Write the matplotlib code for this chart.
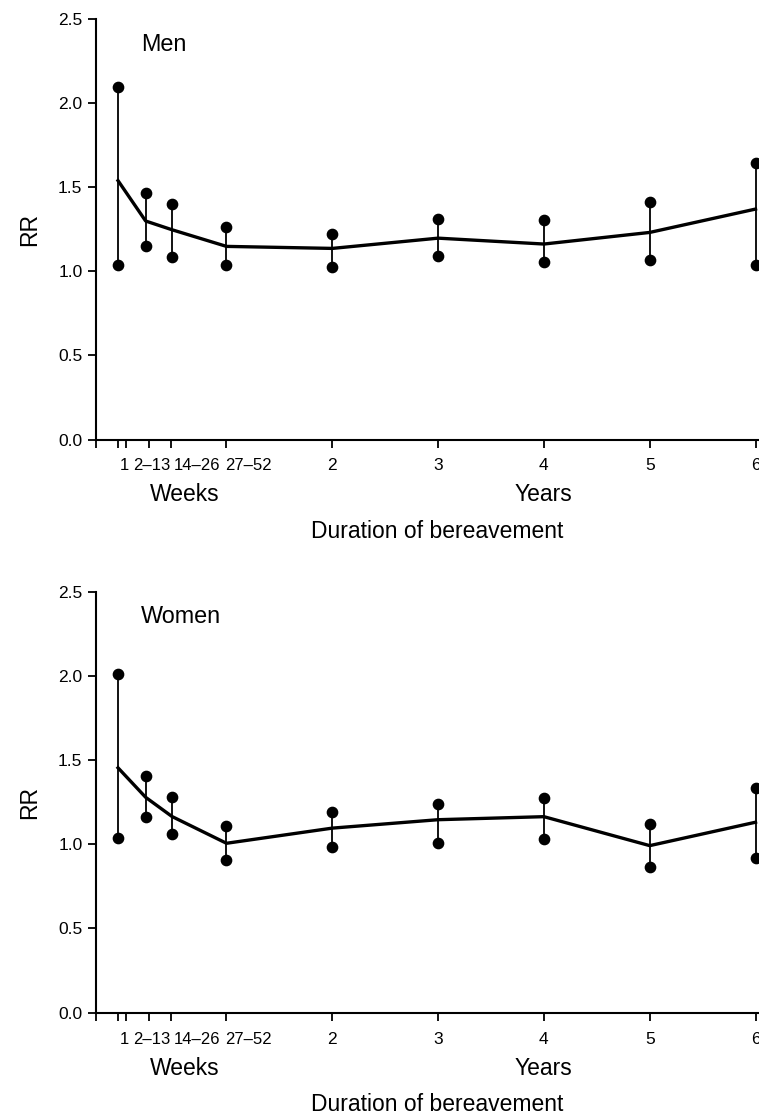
import matplotlib
matplotlib.use("Agg")
import matplotlib.pyplot as plt
import matplotlib.transforms as mtransforms

plt.rcParams['font.family'] = ['Liberation Sans', 'DejaVu Sans']

### data: x in years since bereavement (week groups sit near the start)
x_pos = [-0.025, 0.236, 0.485, 1.0, 2, 3, 4, 5, 6]

men_rr = [1.54, 1.30, 1.248, 1.149, 1.137, 1.198, 1.163, 1.232, 1.371]
men_lo = [1.04, 1.153, 1.083, 1.04, 1.028, 1.089, 1.054, 1.07, 1.036]
men_hi = [2.097, 1.466, 1.40, 1.262, 1.224, 1.314, 1.306, 1.413, 1.643]

women_rr = [1.454, 1.279, 1.165, 1.006, 1.096, 1.146, 1.164, 0.992, 1.131]
women_lo = [1.036, 1.165, 1.062, 0.904, 0.984, 1.006, 1.034, 0.863, 0.916]
women_hi = [2.014, 1.404, 1.279, 1.11, 1.191, 1.241, 1.273, 1.118, 1.335]

### axis ticks
X_MIN, X_MAX = -0.236, 6.03
week_ticks = [X_MIN, -0.021, 0.050, 0.267, 0.48, 1.0]
year_ticks = [2, 3, 4, 5, 6]
year_labels = ["2", "3", "4", "5", "6"]
week_label_pos = [0.034, 0.296, 0.718, 1.205]
week_labels = ["1", "2\u201313", "14\u201326", "27\u201352"]
y_ticks = [0.0, 0.5, 1.0, 1.5, 2.0, 2.5]


def draw_panel(ax, rr, lo, hi, title):
    # 1. CI bars and end dots
    ax.vlines(x_pos, lo, hi, colors="black", lw=1.3, zorder=2)
    ax.plot(x_pos, lo, "o", color="black", ms=7.4, zorder=3, clip_on=False)
    ax.plot(x_pos, hi, "o", color="black", ms=7.4, zorder=3, clip_on=False)
    # 2. RR line
    ax.plot(x_pos, rr, color="black", lw=2.4, zorder=4)

    ax.set_xlim(X_MIN, X_MAX)
    ax.set_ylim(0, 2.5)

    # 3. spines
    for side in ["top", "right"]:
        ax.spines[side].set_visible(False)
    ax.spines["left"].set_linewidth(1.5)
    ax.spines["bottom"].set_linewidth(1.5)

    # 4. ticks
    ax.set_yticks(y_ticks)
    ax.set_yticklabels(["{:.1f}".format(v) for v in y_ticks])
    ax.set_xticks(week_ticks + year_ticks)
    ax.set_xticklabels([""] * len(week_ticks) + year_labels)
    ax.set_xticks(week_label_pos, minor=True)
    ax.set_xticklabels(week_labels, minor=True)
    ax.tick_params(axis="both", which="major", direction="out",
                   length=5.6, width=1.3, labelsize=12.5)
    ax.tick_params(axis="y", pad=4.0)
    ax.tick_params(axis="x", which="major", pad=8.0)
    ax.tick_params(axis="x", which="minor", length=0, pad=13.6, labelsize=12)

    ax.set_ylabel("RR", fontsize=16.5, labelpad=12)

    # 5. texts
    ax.text(0.068, 0.941, title, transform=ax.transAxes,
            fontsize=16.8, ha="left", va="center")
    trans = mtransforms.blended_transform_factory(ax.transData, ax.transAxes)
    ax.text(0.607, -0.1468, "Weeks", transform=trans, fontsize=16.5,
            ha="center", va="baseline")
    ax.text(4.0, -0.1468, "Years", transform=trans, fontsize=16.5,
            ha="center", va="baseline")
    ax.text(2.99, -0.2335, "Duration of bereavement", transform=trans,
            fontsize=16.5, ha="center", va="baseline")


fig = plt.figure(figsize=(7.59, 11.15), dpi=100)
ax_men = fig.add_axes([0.1261, 0.6058, 0.8735, 0.3769])
ax_women = fig.add_axes([0.1261, 0.09175, 0.8735, 0.3776])

draw_panel(ax_men, men_rr, men_lo, men_hi, "Men")
draw_panel(ax_women, women_rr, women_lo, women_hi, "Women")

fig.savefig("out.png", dpi=100)
